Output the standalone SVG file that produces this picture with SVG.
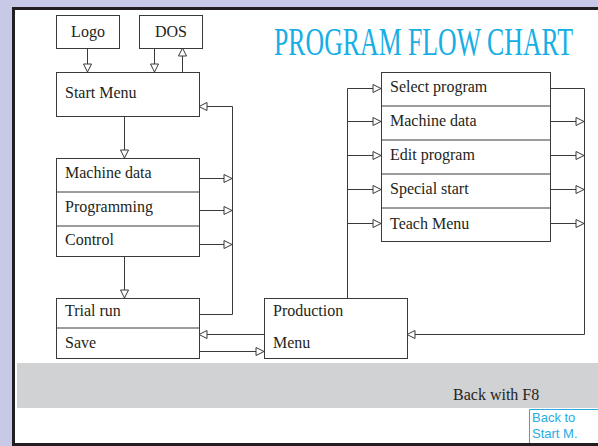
<svg xmlns="http://www.w3.org/2000/svg" width="598" height="446" viewBox="0 0 598 446">
<style>
.box{fill:#fff;stroke:#3a3a3a;stroke-width:1}
.div{stroke:#3a3a3a;stroke-width:1}
.t{font-family:"Liberation Serif","Times New Roman",serif;font-size:16px;fill:#231f20}
.c{fill:none;stroke:#3a3a3a;stroke-width:1}
.a{marker-end:url(#ah)}
</style>
<defs>
<marker id="ah" markerUnits="userSpaceOnUse" markerWidth="10" markerHeight="10" refX="9" refY="5" orient="auto" viewBox="0 0 10 10">
<path d="M1,1 L9,5 L1,9 Z" fill="#fff" stroke="#3a3a3a" stroke-width="1"/>
</marker>
</defs>
<rect x="0" y="0" width="598" height="446" fill="#c7c9e6"/>
<rect x="13.5" y="8.5" width="600" height="436" fill="#fff" stroke="#231f20" stroke-width="3"/>
<rect x="17" y="363" width="581" height="45" fill="#d1d2d4"/>
<text transform="translate(274,55) scale(0.645,1.02)" x="0" y="0" font-family="Liberation Serif,serif" font-size="40" fill="#16aee6">PROGRAM FLOW CHART</text>
<text class="t" x="453" y="400">Back with F8</text>
<g id="back-link">
<path d="M529.5,443 V409.5 H598" fill="none" stroke="#29abe2" stroke-width="1"/>
<text x="532" y="422" font-family="Liberation Sans,Arial,sans-serif" font-size="13" fill="#29abe2">Back to</text>
<text x="532" y="438" font-family="Liberation Sans,Arial,sans-serif" font-size="13" fill="#29abe2">Start M.</text>
</g>
<g id="connectors">
<path class="c a" d="M87.5,48 V72"/>
<path class="c a" d="M154.5,48 V72"/>
<path class="c a" d="M182.5,72 V48"/>
<path class="c a" d="M124.5,117 V158"/>
<path class="c a" d="M199,178.5 H232"/>
<path class="c a" d="M199,210.5 H232"/>
<path class="c a" d="M199,244.5 H232"/>
<path class="c a" d="M124.5,257 V298"/>
<path class="c a" d="M199,314.5 H232.5 V106.5 H199"/>
<path class="c a" d="M264,334.5 H199"/>
<path class="c a" d="M199,351.5 H264"/>
<path class="c a" d="M347.5,298 V88.5 H381"/>
<path class="c a" d="M347.5,121.5 H381"/>
<path class="c a" d="M347.5,155.5 H381"/>
<path class="c a" d="M347.5,189.5 H381"/>
<path class="c a" d="M347.5,223.5 H381"/>
<path class="c a" d="M551,88.5 H584.5 V334.5 H407"/>
<path class="c a" d="M551,121.5 H584"/>
<path class="c a" d="M551,155.5 H584"/>
<path class="c a" d="M551,189.5 H584"/>
<path class="c a" d="M551,223.5 H584"/>
</g>
<g id="logo">
<rect class="box" x="56.5" y="15.5" width="63" height="33"/>
<text class="t" x="88" y="37" text-anchor="middle">Logo</text>
</g>
<g id="dos">
<rect class="box" x="139.5" y="15.5" width="63" height="33"/>
<text class="t" x="171" y="37" text-anchor="middle">DOS</text>
</g>
<g id="start-menu">
<rect class="box" x="56.5" y="72.5" width="143" height="44"/>
<text class="t" x="65" y="98">Start Menu</text>
</g>
<g id="main-menu">
<rect class="box" x="56.5" y="158.5" width="143" height="98"/>
<line class="div" x1="56.5" y1="192" x2="199.5" y2="192"/>
<line class="div" x1="56.5" y1="226" x2="199.5" y2="226"/>
<text class="t" x="65" y="178">Machine data</text>
<text class="t" x="65" y="212">Programming</text>
<text class="t" x="65" y="245">Control</text>
</g>
<g id="trial-save">
<rect class="box" x="56.5" y="298.5" width="143" height="60"/>
<line class="div" x1="56.5" y1="328" x2="199.5" y2="328"/>
<text class="t" x="65" y="316">Trial run</text>
<text class="t" x="65" y="348">Save</text>
</g>
<g id="production-menu">
<rect class="box" x="264.5" y="298.5" width="143" height="60"/>
<text class="t" x="273" y="316">Production</text>
<text class="t" x="273" y="348">Menu</text>
</g>
<g id="production-submenu">
<rect class="box" x="381.5" y="72.5" width="169" height="169"/>
<line class="div" x1="381.5" y1="106" x2="550.5" y2="106"/>
<line class="div" x1="381.5" y1="140" x2="550.5" y2="140"/>
<line class="div" x1="381.5" y1="174" x2="550.5" y2="174"/>
<line class="div" x1="381.5" y1="208" x2="550.5" y2="208"/>
<text class="t" x="390" y="92">Select program</text>
<text class="t" x="390" y="126">Machine data</text>
<text class="t" x="390" y="160">Edit program</text>
<text class="t" x="390" y="194">Special start</text>
<text class="t" x="390" y="229">Teach Menu</text>
</g>
</svg>
